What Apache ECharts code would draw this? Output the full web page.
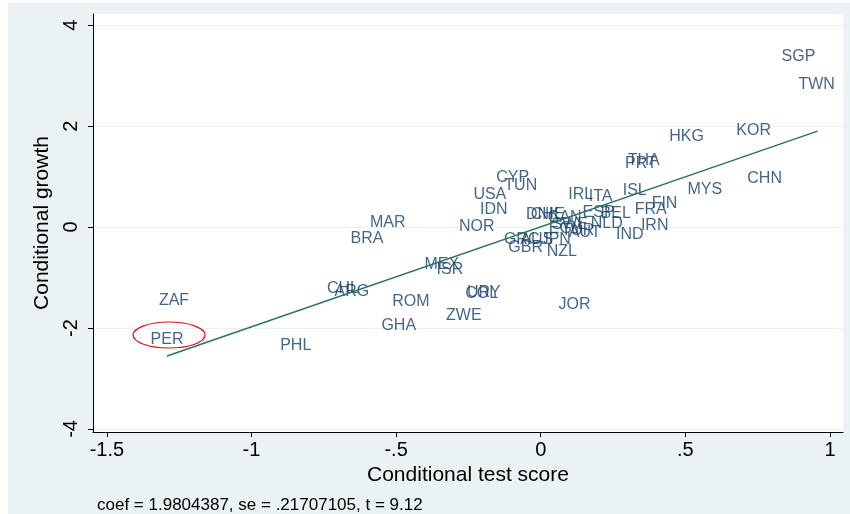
<!DOCTYPE html>
<html>
<head>
<meta charset="utf-8">
<script src="https://cdn.jsdelivr.net/npm/echarts@6/dist/echarts.min.js"></script>
<style>
  html, body { margin: 0; padding: 0; background: #fff; }
  #chart { position: absolute; left: 8px; top: 3px; width: 842px; height: 511px; }
</style>
</head>
<body>
<div id="chart"></div>
<script>
// country codes, conditional test score (x) and conditional growth (y)
const countries = [
  'SGP', 'TWN', 'HKG', 'KOR', 'CHN', 'MYS', 'THA', 'PRT', 'ISL', 'FIN',
  'FRA', 'IRN', 'IND', 'ITA', 'IRL', 'ESP', 'BEL', 'NLD', 'CYP', 'TUN',
  'USA', 'IDN', 'NOR', 'MAR', 'BRA', 'MEX', 'ISR', 'CHL', 'ARG', 'ROM',
  'URY', 'COL', 'ZWE', 'GHA', 'ZAF', 'PER', 'PHL', 'JOR', 'NZL', 'GBR',
  'GRC', 'DNK', 'CHE', 'CAN', 'SWE', 'EGY', 'AUT', 'TUR', 'AUS', 'JPN',
]
const testScore = [
  0.891, 0.954, 0.504, 0.736, 0.774, 0.567, 0.356, 0.346, 0.325, 0.428,
  0.380, 0.394, 0.308, 0.207, 0.138, 0.200, 0.259, 0.228, -0.097, -0.069,
  -0.176, -0.162, -0.221, -0.529, -0.601, -0.342, -0.314, -0.684, -0.653, -0.449,
  -0.197, -0.204, -0.266, -0.491, -1.268, -1.292, -0.847, 0.117, 0.073, -0.052,
  -0.066, 0.007, 0.024, 0.083, 0.100, 0.086, 0.152, 0.128, -0.014, 0.052,
]
const growth = [
  3.386, 2.812, 1.782, 1.901, 0.950, 0.733, 1.307, 1.248, 0.713, 0.455,
  0.337, 0.020, -0.158, 0.594, 0.634, 0.277, 0.257, 0.059, 0.970, 0.812,
  0.634, 0.337, 0.0, 0.079, -0.238, -0.752, -0.851, -1.228, -1.287, -1.485,
  -1.307, -1.327, -1.762, -1.960, -1.465, -2.238, -2.356, -1.545, -0.495, -0.416,
  -0.257, 0.238, 0.238, 0.178, 0.040, -0.040, -0.119, -0.079, -0.257, -0.257,
]

// fitted regression line end points
const fitX = [-1.292, 0.957]
const fitY = [-2.554, 1.900]

const xTicks = [-1.5, -1, -0.5, 0, 0.5, 1]
const yTicks = [-4, -2, 0, 2, 4]
const highlighted = 'PER'
const note = 'coef = 1.9804387, se = .21707105, t = 9.12'

const font = 'Liberation Sans, Arial, sans-serif'
const stataFmt = v => String(v).replace('0.', '.')

const chart = echarts.init(document.getElementById('chart'))

chart.setOption({
  backgroundColor: '#eaf2f3',
  animation: false,
  title: {
    text: note,
    left: 84,
    top: 489,
    textStyle: { fontFamily: font, fontSize: 17, fontWeight: 'normal', color: '#000' },
  },
  grid: {
    left: 85, top: 11, right: 7, bottom: 82,
    show: true, backgroundColor: '#fff', borderWidth: 0,
  },
  xAxis: {
    type: 'value',
    min: -1.548,
    max: 1.045,
    name: 'Conditional test score',
    nameLocation: 'middle',
    nameGap: 31,
    nameTextStyle: { fontFamily: font, fontSize: 21, color: '#000' },
    axisLine: { show: true, onZero: false, lineStyle: { color: '#000', width: 1 } },
    axisTick: { show: true, length: 5, customValues: xTicks, lineStyle: { color: '#000' } },
    axisLabel: {
      customValues: xTicks, margin: 8, formatter: stataFmt,
      fontFamily: font, fontSize: 20, color: '#000',
    },
    splitLine: { show: false },
  },
  yAxis: {
    type: 'value',
    min: -4.06,
    max: 4.22,
    name: 'Conditional growth',
    nameLocation: 'middle',
    nameGap: 37,
    nameTextStyle: { fontFamily: font, fontSize: 21, color: '#000' },
    axisLine: { show: true, onZero: false, lineStyle: { color: '#000', width: 1 } },
    axisTick: { show: true, length: 5, customValues: yTicks, lineStyle: { color: '#000' } },
    axisLabel: {
      customValues: yTicks, rotate: 90, margin: 12, formatter: stataFmt,
      fontFamily: font, fontSize: 20, color: '#000',
    },
    splitLine: { show: true, lineStyle: { color: '#eaf2f3', width: 1 } },
  },
  series: [
    {
      type: 'scatter',
      symbolSize: 1,
      itemStyle: { color: 'rgba(0,0,0,0)' },
      data: countries.map((c, i) => ({ name: c, value: [testScore[i], growth[i]] })),
      label: {
        show: true,
        position: 'inside',
        formatter: p => p.name,
        fontFamily: font,
        fontSize: 16,
        color: '#163f66',
      },
      z: 2,
    },
    {
      type: 'line',
      data: fitX.map((x, i) => [x, fitY[i]]),
      symbol: 'none',
      lineStyle: { color: '#2b7362', width: 1.5 },
      z: 3,
    },
  ],
})

// red ellipse around the highlighted country
const hi = countries.indexOf(highlighted)
const pt = chart.convertToPixel({ seriesIndex: 0 }, [testScore[hi], growth[hi]])
chart.setOption({
  graphic: [{
    type: 'ellipse',
    shape: { cx: pt[0] + 2, cy: pt[1] - 5, rx: 36, ry: 13 },
    style: { fill: 'none', stroke: '#e01010', lineWidth: 1.2 },
    z: 10,
  }],
})

window.addEventListener('resize', () => chart.resize())
</script>
</body>
</html>
